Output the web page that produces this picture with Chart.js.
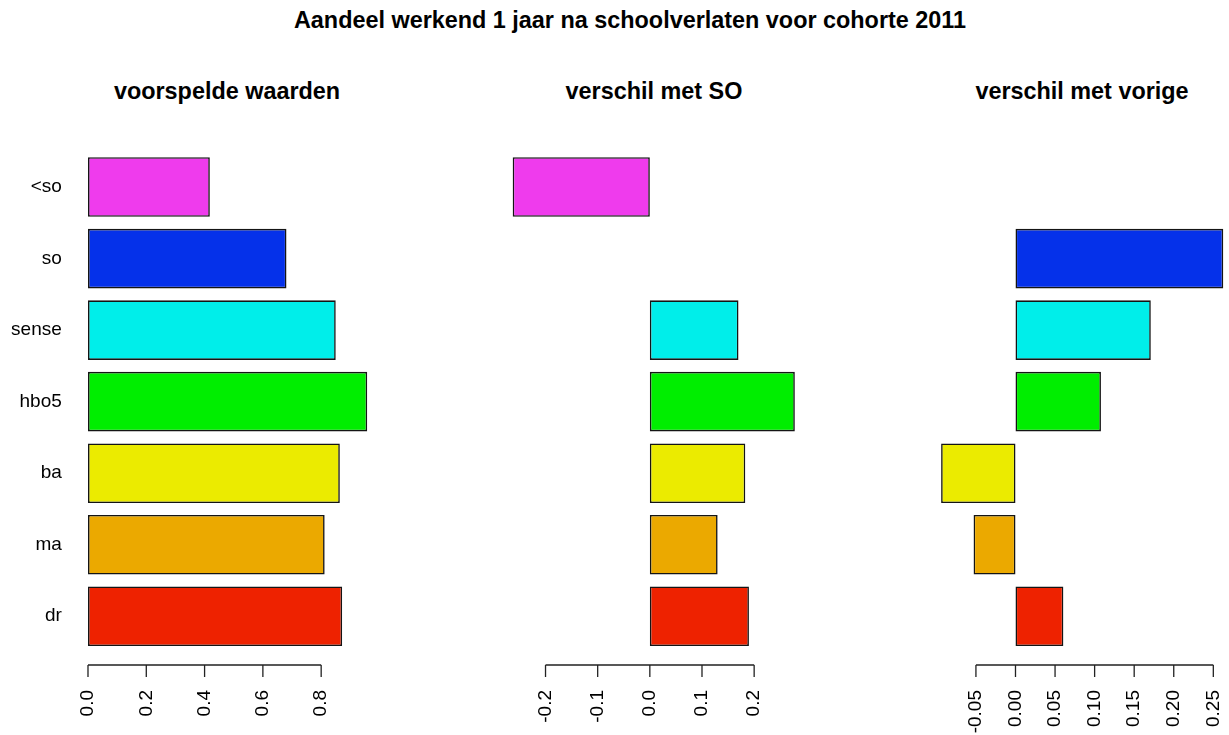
<!DOCTYPE html>
<html>
<head>
<meta charset="utf-8">
<script src="https://cdn.jsdelivr.net/npm/chart.js@4.4.1/dist/chart.umd.min.js"></script>
<style>
  html, body { margin: 0; padding: 0; background: #ffffff; overflow: hidden; }
  body { width: 1229px; height: 735px; position: relative; font-family: "Liberation Sans", Arial, sans-serif; }
  canvas { position: absolute; top: 0; }
  .ttl { position: absolute; font-weight: bold; font-size: 23.4px; line-height: 23.4px; color: #000; white-space: nowrap; transform: translateX(-50%); }
</style>
</head>
<body>
<div class="ttl" style="left:630px; top:9px;">Aandeel werkend 1 jaar na schoolverlaten voor cohorte 2011</div>
<div class="ttl" style="left:227px; top:80px;">voorspelde waarden</div>
<div class="ttl" style="left:654px; top:80px;">verschil met SO</div>
<div class="ttl" style="left:1082px; top:80px;">verschil met vorige</div>
<canvas id="c1" width="409" height="735" style="left:0px;"></canvas>
<canvas id="c2" width="410" height="735" style="left:409px;"></canvas>
<canvas id="c3" width="470" height="735" style="left:819px;"></canvas>
<script>
// ---- data ----
const categories = ["<so", "so", "sense", "hbo5", "ba", "ma", "dr"];
const barColors = ["#EF3BED", "#0531EA", "#00EEEA", "#00EE00", "#EBEB00", "#EBA900", "#EE2200"];
const predicted = [0.418, 0.681, 0.850, 0.958, 0.864, 0.812, 0.872];
const diffWithSO = [-0.263, 0, 0.170, 0.278, 0.183, 0.130, 0.190];
const diffWithPrev = [null, 0.2626, 0.171, 0.108, -0.094, -0.053, 0.0605];
const ticks1 = [0, 0.2, 0.4, 0.6, 0.8];
const tickLabels1 = ["0.0", "0.2", "0.4", "0.6", "0.8"];
const ticks2 = [-0.2, -0.1, 0, 0.1, 0.2];
const tickLabels2 = ["-0.2", "-0.1", "0.0", "0.1", "0.2"];
const ticks3 = [-0.05, 0, 0.05, 0.10, 0.15, 0.20, 0.25];
const tickLabels3 = ["-0.05", "0.00", "0.05", "0.10", "0.15", "0.20", "0.25"];

const FONT = "'Liberation Sans', Arial, sans-serif";
Chart.defaults.font.family = FONT;

// R-style detached x axis drawn from the library's scale
const rAxisPlugin = {
  id: 'rAxis',
  afterDraw(chart, args, opts) {
    const xs = chart.scales.x;
    const ctx = chart.ctx;
    const vals = opts.ticks;
    const y0 = chart.chartArea.bottom + 13;
    const x1 = xs.getPixelForValue(vals[0]);
    const x2 = xs.getPixelForValue(vals[vals.length - 1]);
    ctx.save();
    ctx.strokeStyle = '#222';
    ctx.lineWidth = 1.3;
    ctx.beginPath();
    ctx.moveTo(x1, y0);
    ctx.lineTo(x2, y0);
    vals.forEach(v => {
      const px = xs.getPixelForValue(v);
      ctx.moveTo(px, y0);
      ctx.lineTo(px, y0 + 12);
    });
    ctx.stroke();
    ctx.restore();
  }
};

function makePanel(id, values, tickVals, tickLabs, xmin, xmax, pad, showY) {
  return new Chart(document.getElementById(id), {
    type: 'bar',
    data: {
      labels: categories,
      datasets: [{
        data: values,
        backgroundColor: barColors,
        borderColor: '#141414',
        borderWidth: 1.6,
        borderSkipped: false,
        categoryPercentage: 1,
        barPercentage: 1 / 1.2
      }]
    },
    options: {
      indexAxis: 'y',
      responsive: false,
      animation: false,
      devicePixelRatio: 1,
      layout: { autoPadding: false, padding: pad },
      plugins: {
        legend: { display: false },
        tooltip: { enabled: false },
        title: { display: false },
        rAxis: { ticks: tickVals }
      },
      scales: {
        x: {
          type: 'linear',
          bounds: 'data',
          min: xmin,
          max: xmax,
          grid: { display: false, drawTicks: false },
          border: { display: false },
          afterBuildTicks(scale) {
            scale.ticks = tickVals.map(v => ({ value: v }));
            scale.min = xmin;
            scale.max = xmax;
          },
          afterFit(scale) { scale.height = 83; },
          ticks: {
            color: '#000',
            font: { size: 19, family: FONT },
            minRotation: 90,
            maxRotation: 90,
            padding: 38,
            autoSkip: false,
            callback: (v, i) => tickLabs[i]
          }
        },
        y: {
          display: showY,
          grid: { display: false, drawTicks: false },
          border: { display: false },
          afterFit(scale) { if (showY) scale.width = 76.8; },
          ticks: {
            color: '#000',
            font: { size: 19, family: FONT },
            padding: 15
          }
        }
      }
    },
    plugins: [rAxisPlugin]
  });
}

makePanel('c1', predicted, ticks1, tickLabels1, -0.0384, 0.9984,
  { left: 0, right: 30, top: 151.3, bottom: 0 }, true);
makePanel('c2', diffWithSO, ticks2, tickLabels2, -0.2846, 0.2996,
  { left: 92.4, right: 12.9, top: 151.3, bottom: 0 }, false);
makePanel('c3', diffWithPrev, ticks3, tickLabels3, -0.1088, 0.2769,
  { left: 110.4, right: 54.4, top: 151.3, bottom: 0 }, false);
</script>
</body>
</html>
